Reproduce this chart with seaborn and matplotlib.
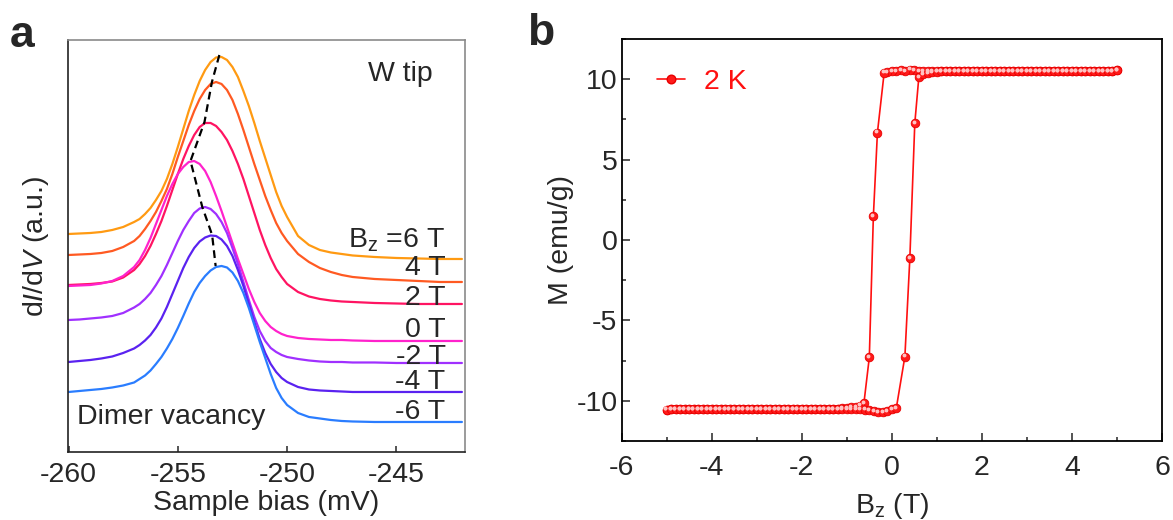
import numpy as np
import pandas as pd
import matplotlib
matplotlib.use("Agg")
import matplotlib.pyplot as plt
import seaborn as sns
from matplotlib.ticker import MultipleLocator, FixedLocator, NullLocator, FuncFormatter
from matplotlib.lines import Line2D
from matplotlib.transforms import offset_copy

# ---------------- data: panel a (dI/dV spectra, offset curves) ----------------
bias = [-260, -259.5, -259, -258.5, -258, -257.5,
        -257, -256.75, -256.5, -256.25, -256, -255.75, -255.5, -255.25, -255, -254.75,
        -254.5, -254.25, -254, -253.75, -253.5, -253.25, -253, -252.75, -252.5, -252.25,
        -252, -251.75, -251.5, -251.25, -251, -250.75, -250.5, -250.25, -250,
        -249.5, -249, -248.5, -248, -247.5, -247, -246, -245, -244, -243, -242]
didv_p6 = [2.18, 2.185, 2.19, 2.20, 2.22, 2.25,
           2.30, 2.33, 2.38, 2.44, 2.52, 2.61, 2.73, 2.88, 3.05, 3.23,
           3.41, 3.57, 3.71, 3.82, 3.90, 3.945, 3.95, 3.92, 3.85, 3.75,
           3.61, 3.46, 3.29, 3.11, 2.94, 2.77, 2.60, 2.46, 2.35,
           2.16, 2.07, 2.02, 1.995, 1.98, 1.965, 1.95, 1.94, 1.935, 1.93, 1.93]
didv_p4 = [1.97, 1.975, 1.98, 1.99, 2.01, 2.05,
           2.11, 2.16, 2.23, 2.31, 2.40, 2.51, 2.63, 2.78, 2.95, 3.11,
           3.27, 3.41, 3.53, 3.62, 3.68, 3.70, 3.68, 3.62, 3.52, 3.38,
           3.22, 3.05, 2.88, 2.72, 2.56, 2.42, 2.29, 2.19, 2.11,
           1.98, 1.90, 1.84, 1.80, 1.77, 1.75, 1.73, 1.72, 1.71, 1.70, 1.70]
didv_p2 = [1.67, 1.675, 1.68, 1.69, 1.705, 1.745,
           1.82, 1.88, 1.96, 2.06, 2.18, 2.31, 2.46, 2.62, 2.78, 2.93,
           3.06, 3.17, 3.25, 3.29, 3.29, 3.26, 3.20, 3.12, 3.01, 2.88,
           2.73, 2.56, 2.39, 2.22, 2.07, 1.94, 1.83, 1.75, 1.68,
           1.60, 1.555, 1.53, 1.515, 1.505, 1.50, 1.49, 1.485, 1.48, 1.48, 1.48]
didv_0 = [1.66, 1.665, 1.67, 1.685, 1.71, 1.76,
          1.85, 1.92, 2.02, 2.14, 2.28, 2.42, 2.56, 2.68, 2.78, 2.85,
          2.90, 2.91, 2.88, 2.81, 2.70, 2.56, 2.41, 2.25, 2.09, 1.93,
          1.78, 1.63, 1.50, 1.39, 1.31, 1.25, 1.21, 1.18, 1.16,
          1.14, 1.13, 1.125, 1.12, 1.12, 1.115, 1.11, 1.11, 1.11, 1.11, 1.11]
didv_m2 = [1.32, 1.325, 1.335, 1.345, 1.36, 1.39,
           1.445, 1.48, 1.53, 1.59, 1.67, 1.76, 1.87, 1.99, 2.11, 2.22,
           2.31, 2.39, 2.435, 2.45, 2.43, 2.38, 2.30, 2.19, 2.04, 1.88,
           1.70, 1.52, 1.35, 1.21, 1.11, 1.04, 1.00, 0.97, 0.95,
           0.93, 0.915, 0.905, 0.90, 0.90, 0.895, 0.895, 0.89, 0.89, 0.89, 0.89]
didv_m4 = [0.90, 0.91, 0.92, 0.935, 0.955, 0.99,
           1.035, 1.07, 1.115, 1.17, 1.245, 1.335, 1.45, 1.58, 1.71, 1.84,
           1.95, 2.04, 2.105, 2.145, 2.165, 2.16, 2.125, 2.06, 1.96, 1.82,
           1.66, 1.48, 1.30, 1.13, 0.99, 0.88, 0.80, 0.74, 0.70,
           0.65, 0.625, 0.615, 0.61, 0.605, 0.60, 0.60, 0.60, 0.60, 0.60, 0.60]
didv_m6 = [0.60, 0.61, 0.62, 0.63, 0.645, 0.665,
           0.695, 0.73, 0.765, 0.815, 0.88, 0.95, 1.035, 1.13, 1.24, 1.36,
           1.485, 1.60, 1.69, 1.76, 1.815, 1.85, 1.86, 1.845, 1.795, 1.71,
           1.59, 1.44, 1.27, 1.10, 0.94, 0.78, 0.64, 0.54, 0.47,
           0.39, 0.35, 0.335, 0.32, 0.31, 0.305, 0.30, 0.30, 0.30, 0.30, 0.30]
field_labels = ["6 T", "4 T", "2 T", "0 T", "-2 T", "-4 T", "-6 T"]
curve_colors = ["#FF9A12", "#FF5A22", "#FF1462", "#FF22CC", "#A030FF", "#5A22F0", "#2A7DFF"]
peak_bias = [-253.1, -253.44, -253.78, -254.42, -253.88, -253.43, -253.27]
peak_val = [3.97, 3.70, 3.30, 2.91, 2.45, 2.17, 1.86]
label_y = [2.12, 1.84, 1.54, 1.22, 0.95, 0.70, 0.40]

# ---------------- data: panel b (M-H loop at 2 K) ----------------
B_down = [5.0, 4.9, 4.8, 4.7, 4.6, 4.5, 4.4, 4.3, 4.2, 4.1,
          4.0, 3.9, 3.8, 3.7, 3.6, 3.5, 3.4, 3.3, 3.2, 3.1,
          3.0, 2.9, 2.8, 2.7, 2.6, 2.5, 2.4, 2.3, 2.2, 2.1,
          2.0, 1.9, 1.8, 1.7, 1.6, 1.5, 1.4, 1.3, 1.2, 1.1,
          1.0, 0.9, 0.8, 0.7, 0.6, 0.5, 0.4, 0.3, 0.2, 0.1,
          0.0, -0.1, -0.17, -0.32, -0.41, -0.50, -0.62, -0.7, -0.8, -0.9,
          -1.0, -1.1, -1.2, -1.3, -1.4, -1.5, -1.6, -1.7, -1.8, -1.9,
          -2.0, -2.1, -2.2, -2.3, -2.4, -2.5, -2.6, -2.7, -2.8, -2.9,
          -3.0, -3.1, -3.2, -3.3, -3.4, -3.5, -3.6, -3.7, -3.8, -3.9,
          -4.0, -4.1, -4.2, -4.3, -4.4, -4.5, -4.6, -4.7, -4.8, -4.9,
          -5.0]
M_down = [10.55, 10.5, 10.5, 10.5, 10.5, 10.5, 10.5, 10.5, 10.5, 10.5,
          10.5, 10.5, 10.5, 10.5, 10.5, 10.5, 10.5, 10.5, 10.5, 10.5,
          10.5, 10.5, 10.5, 10.5, 10.5, 10.5, 10.5, 10.5, 10.5, 10.5,
          10.5, 10.5, 10.5, 10.5, 10.5, 10.5, 10.5, 10.5, 10.5, 10.5,
          10.5, 10.5, 10.5, 10.5, 10.5, 10.55, 10.6, 10.5, 10.55, 10.5,
          10.5, 10.45, 10.42, 6.68, 1.49, -7.30, -10.15, -10.3, -10.38, -10.42,
          -10.45, -10.47, -10.5, -10.5, -10.5, -10.5, -10.5, -10.5, -10.5, -10.5,
          -10.5, -10.5, -10.5, -10.5, -10.5, -10.5, -10.5, -10.5, -10.5, -10.5,
          -10.5, -10.5, -10.5, -10.5, -10.5, -10.5, -10.5, -10.5, -10.5, -10.5,
          -10.5, -10.5, -10.5, -10.5, -10.5, -10.5, -10.5, -10.5, -10.5, -10.5,
          -10.55]
B_up = [-5.0, -4.9, -4.8, -4.7, -4.6, -4.5, -4.4, -4.3, -4.2, -4.1,
        -4.0, -3.9, -3.8, -3.7, -3.6, -3.5, -3.4, -3.3, -3.2, -3.1,
        -3.0, -2.9, -2.8, -2.7, -2.6, -2.5, -2.4, -2.3, -2.2, -2.1,
        -2.0, -1.9, -1.8, -1.7, -1.6, -1.5, -1.4, -1.3, -1.2, -1.1,
        -1.0, -0.9, -0.8, -0.7, -0.6, -0.5, -0.4, -0.3, -0.2, -0.1,
        0.0, 0.1, 0.29, 0.40, 0.51, 0.60, 0.7, 0.8, 0.9, 1.0,
        1.1, 1.2, 1.3, 1.4, 1.5, 1.6, 1.7, 1.8, 1.9, 2.0,
        2.1, 2.2, 2.3, 2.4, 2.5, 2.6, 2.7, 2.8, 2.9, 3.0,
        3.1, 3.2, 3.3, 3.4, 3.5, 3.6, 3.7, 3.8, 3.9, 4.0,
        4.1, 4.2, 4.3, 4.4, 4.5, 4.6, 4.7, 4.8, 4.9, 5.0]
M_up = [-10.55, -10.5, -10.5, -10.5, -10.5, -10.5, -10.5, -10.5, -10.5, -10.5,
        -10.5, -10.5, -10.5, -10.5, -10.5, -10.5, -10.5, -10.5, -10.5, -10.5,
        -10.5, -10.5, -10.5, -10.5, -10.5, -10.5, -10.5, -10.5, -10.5, -10.5,
        -10.5, -10.5, -10.5, -10.5, -10.5, -10.5, -10.5, -10.5, -10.5, -10.5,
        -10.5, -10.5, -10.5, -10.5, -10.55, -10.6, -10.65, -10.7, -10.7, -10.65,
        -10.5, -10.45, -7.25, -1.14, 7.26, 10.14, 10.3, 10.4, 10.45, 10.47,
        10.5, 10.5, 10.5, 10.5, 10.5, 10.5, 10.5, 10.5, 10.5, 10.5,
        10.5, 10.5, 10.5, 10.5, 10.5, 10.5, 10.5, 10.5, 10.5, 10.5,
        10.5, 10.5, 10.5, 10.5, 10.5, 10.5, 10.5, 10.5, 10.5, 10.5,
        10.5, 10.5, 10.5, 10.5, 10.5, 10.5, 10.5, 10.5, 10.5, 10.55]
loop_label = "2 K"

# ---------------- style ----------------
sns.set_style("white")
FONT = "Liberation Sans"
plt.rcParams["font.family"] = [FONT, "DejaVu Sans"]
plt.rcParams["mathtext.fontset"] = "custom"
plt.rcParams["mathtext.rm"] = FONT
plt.rcParams["mathtext.it"] = FONT + ":italic"
plt.rcParams["mathtext.bf"] = FONT + ":bold"
FS = 20.5

fig = plt.figure(figsize=(11.73, 5.2), dpi=100)
axa = fig.add_axes([0.0577, 0.1308, 0.3387, 0.7923])
axb = fig.add_axes([0.5300, 0.1521, 0.4606, 0.7727])

# ---------------- panel a ----------------
series = [didv_p6, didv_p4, didv_p2, didv_0, didv_m2, didv_m4, didv_m6]
df = pd.concat([pd.DataFrame({"bias": bias, "didv": s, "field": f})
                for s, f in zip(series, field_labels)], ignore_index=True)
sns.lineplot(data=df, x="bias", y="didv", hue="field", hue_order=field_labels,
             palette=curve_colors, sort=False, estimator=None, legend=False,
             linewidth=1.6, ax=axa)
sns.lineplot(x=peak_bias, y=peak_val, sort=False, estimator=None, color="black",
             linewidth=1.6, ax=axa)
axa.lines[-1].set_dashes([3.5, 2.2])

axa.set_xlim(-260.04, -241.86)
axa.set_ylim(0, 4.12)
axa.xaxis.set_major_locator(FixedLocator([-260, -255, -250, -245]))
axa.xaxis.set_major_formatter(FuncFormatter(lambda v, p: f"{v:g}"))
axa.yaxis.set_major_locator(NullLocator())
axa.tick_params(axis="x", direction="in", length=4, width=1.1, labelsize=FS, pad=7,
                bottom=True, top=False)
for sp in ["left", "bottom"]:
    axa.spines[sp].set_color("#222222")
    axa.spines[sp].set_linewidth(1.2)
for sp in ["top", "right"]:
    axa.spines[sp].set_color("#8a8a8a")
    axa.spines[sp].set_linewidth(1.2)
axa.set_xlabel("Sample bias (mV)", fontsize=FS, labelpad=2)
axa.set_ylabel(r"d$\mathit{I}$/d$\mathit{V}$ (a.u.)", fontsize=FS, labelpad=12)

axa.text(-244.8, 3.78, "W tip", fontsize=FS, ha="center", va="center")
for i, (lab, yy) in enumerate(zip(field_labels, label_y)):
    txt = r"B$_\mathrm{z}$ =" + lab if i == 0 else lab
    axa.text(-242.75, yy, txt, fontsize=FS, ha="right", va="center")
axa.text(-259.6, 0.35, "Dimer vacancy", fontsize=FS, ha="left", va="center")

# ---------------- panel b ----------------
dfb = pd.DataFrame({"B": B_down + B_up, "M": M_down + M_up})
sns.lineplot(data=dfb, x="B", y="M", sort=False, estimator=None, color="#FF1010",
             linewidth=1.2, marker="o", markersize=6.2, markeredgecolor="#E80000",
             markeredgewidth=0.6, markerfacecolor="#FF1A1A", ax=axb)
hl = offset_copy(axb.transData, fig=fig, x=-0.9, y=0.9, units="points")
axb.plot(dfb["B"], dfb["M"], linestyle="none", marker="o", markersize=1.8,
         color="#FFC2C2", transform=hl)

axb.set_xlim(-6, 6)
axb.set_ylim(-12.5, 12.5)
axb.xaxis.set_major_locator(MultipleLocator(2))
axb.xaxis.set_minor_locator(MultipleLocator(1))
axb.yaxis.set_major_locator(MultipleLocator(5))
axb.yaxis.set_minor_locator(MultipleLocator(2.5))
axb.tick_params(which="both", direction="in", width=1.1, labelsize=FS,
                top=False, right=False, bottom=True, left=True)
axb.tick_params(which="major", length=5.5)
axb.tick_params(which="minor", length=3)
axb.tick_params(axis="x", pad=10)
axb.tick_params(axis="y", pad=3)
axb.xaxis.set_major_formatter(FuncFormatter(lambda v, p: f"{v:g}"))
axb.yaxis.set_major_formatter(FuncFormatter(lambda v, p: f"{v:g}"))
for sp in axb.spines.values():
    sp.set_color("black")
    sp.set_linewidth(1.3)
axb.set_xlabel(r"B$_\mathrm{z}$ (T)", fontsize=FS, labelpad=7)
axb.set_ylabel("M (emu/g)", fontsize=FS, labelpad=2)

handle = Line2D([0], [0], color="#FF1010", linewidth=1.2, marker="o", markersize=6.2,
                markerfacecolor="#FF1A1A", markeredgecolor="#E80000")
axb.legend(handles=[handle], labels=[loop_label], loc="center left",
           bbox_to_anchor=(0.0653, 0.8925), frameon=False, fontsize=FS,
           handlelength=1.0, handletextpad=0.65, borderpad=0, borderaxespad=0,
           labelcolor="#FF1010")

fig.text(10 / 1173, 1 - 47 / 520, "a", fontsize=32, fontweight="bold", va="baseline")
fig.text(527 / 1173, 1 - 45 / 520, "b", fontsize=32, fontweight="bold", va="baseline")

fig.savefig("out.png", dpi=100, facecolor="white")
